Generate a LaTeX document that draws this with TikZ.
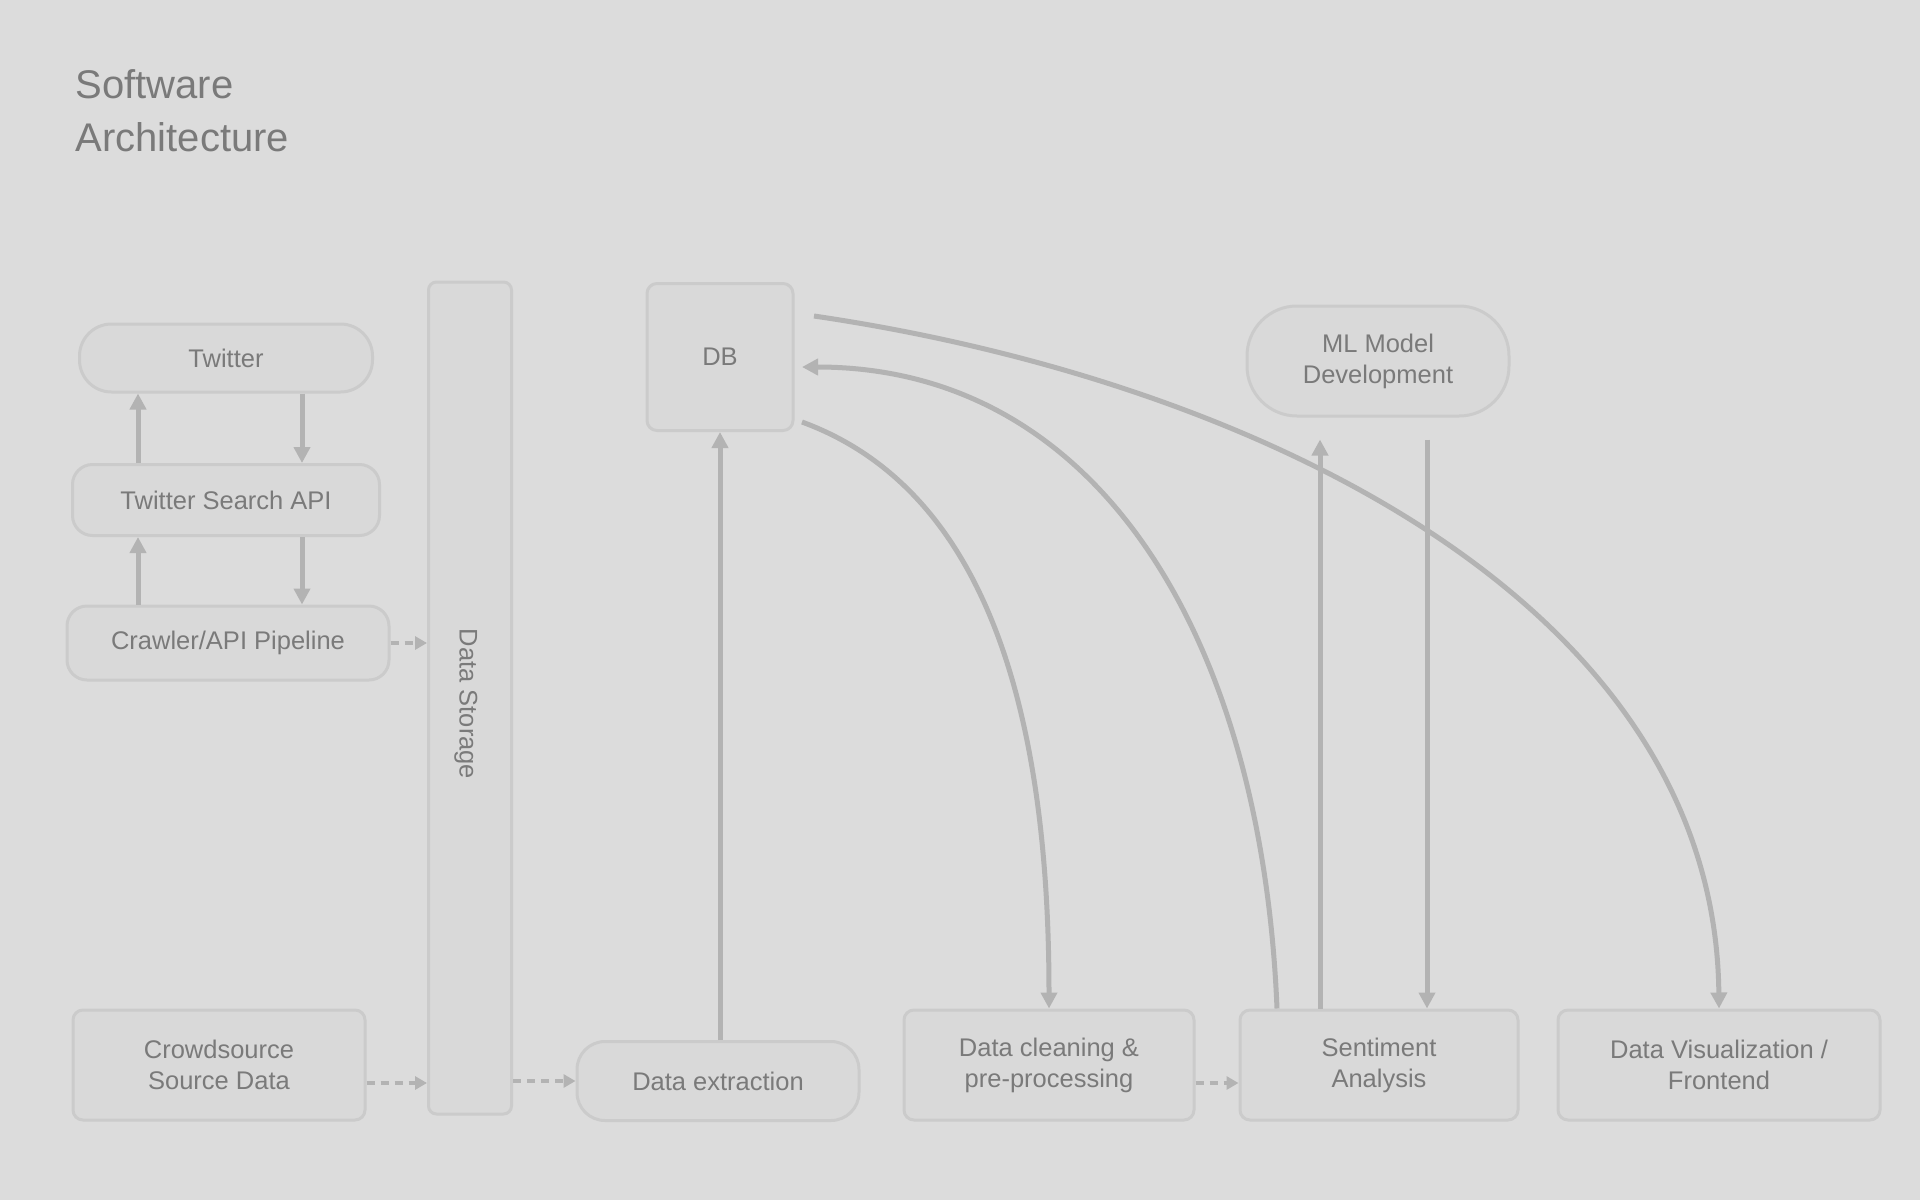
\documentclass[tikz,border=0pt]{standalone}
\usepackage{fontspec}
\setmainfont{Liberation Sans}
\usetikzlibrary{arrows.meta}
\definecolor{bgc}{HTML}{DCDCDC}
\definecolor{boxfill}{HTML}{D9D9D9}
\definecolor{boxline}{HTML}{CBCBCB}
\definecolor{linec}{HTML}{B3B3B3}
\definecolor{txtc}{HTML}{7A7A7A}
\tikzset{
  box/.style={draw=boxline, fill=boxfill, line width=3pt, inner sep=0pt, align=center,
    text=txtc, font=\fontsize{25.5}{31}\selectfont, rounded corners=10pt},
  conn/.style={draw=linec, line width=5pt, -{Triangle[length=16pt,width=16pt]}},
  shortconn/.style={draw=linec, line width=4pt, dashed, dash pattern=on 8pt off 6pt, -{Triangle[length=12pt,width=13pt]}},
}
\begin{document}
\begin{tikzpicture}[x=1pt,y=-1pt]
\fill[bgc] (0,0) rectangle (1920,1200);
\useasboundingbox (0,0) rectangle (1920,1200);

\node[anchor=north west, align=left, text=txtc, font=\fontsize{40}{53}\selectfont] (title) at (72,66) {Software\\Architecture};

% left column
\node[box, rounded corners=32pt, minimum width=293pt, minimum height=68pt] (tw) at (226,358) {Twitter};
\node[box, rounded corners=20pt, minimum width=307pt, minimum height=71pt] (api) at (226,500) {Twitter Search API};
\node[box, rounded corners=20pt, minimum width=322pt, minimum height=74pt] (pipe) at (228,643) {Crawler/API Pipeline};

% vertical bar
\node[box, rounded corners=8pt, minimum width=83pt, minimum height=832pt] (bar) at (470,698) {};
\node[text=txtc, font=\fontsize{25.5}{31}\selectfont, rotate=-90] (barlbl) at (466,704) {Data Storage};

% bottom row
\node[box, minimum width=292pt, minimum height=110pt] (src) at (219,1065) {Crowdsource\\Source Data};
\node[box, rounded corners=28pt, minimum width=282pt, minimum height=79pt] (ext) at (718,1081) {Data extraction};
\node[box, minimum width=290pt, minimum height=110pt] (clean) at (1049,1065) {Data cleaning \&\\pre-processing};
\node[box, minimum width=278pt, minimum height=110pt] (sent) at (1379,1065) {Sentiment\\Analysis};
\node[box, minimum width=322pt, minimum height=110pt] (viz) at (1719,1065) {Data Visualization /\\Frontend};

% top nodes
\node[box, minimum width=146pt, minimum height=147pt] (db) at (720,357) {DB};
\node[box, rounded corners=50pt, minimum width=262pt, minimum height=110pt] (ml) at (1378,361) {ML Model\\Development};

% left column arrows
\draw[conn] ([xshift=-88pt]api.north) -- ([xshift=-88pt]tw.south);
\draw[conn] ([xshift=76pt]tw.south) -- ([xshift=76pt]api.north);
\draw[conn] ([xshift=-90pt]pipe.north) -- ([xshift=-88pt]api.south);
\draw[conn] ([xshift=76pt]api.south) -- ([xshift=74pt]pipe.north);

% short arrows
\draw[shortconn] (pipe.east) -- (pipe.east -| bar.west);
\draw[shortconn] ([yshift=-18pt]src.east) -- ([yshift=-18pt]src.east -| bar.west);
\coordinate (barout) at (bar.east |- ext.west);
\draw[shortconn] (barout) -- (ext.west);
\draw[shortconn] ([yshift=-18pt]clean.east) -- ([yshift=-18pt]sent.west);

% DB <- extraction
\draw[conn] ([xshift=2pt]ext.north) -- (db.south);

% ML arrows
\draw[conn] ([xshift=-59pt]sent.north) -- ([xshift=-58pt, yshift=-22pt]ml.south);
\draw[conn] ([xshift=49pt, yshift=-22pt]ml.south) -- ([xshift=48pt]sent.north);

% curves
\coordinate (c1s) at (802,422);
\coordinate (c2e) at (802,367);
\coordinate (c3s) at (814,316);
\draw[conn] (c1s) .. controls (960,480) and ([yshift=350pt]clean.north) .. (clean.north);
\draw[conn] ([xshift=-102pt]sent.north) .. controls (1262,640) and (1100,367) .. (c2e);
\draw[conn] (c3s) .. controls (1250,380) and (1715,600) .. (viz.north);
\end{tikzpicture}
\end{document}
